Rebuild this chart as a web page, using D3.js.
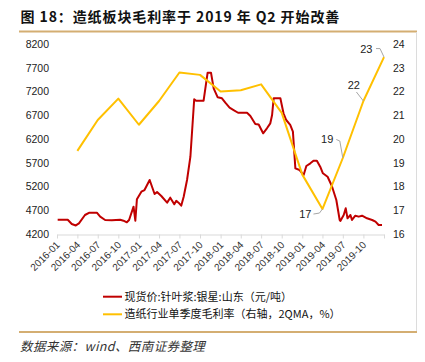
<!DOCTYPE html>
<html><head><meta charset="utf-8">
<script src="https://cdn.jsdelivr.net/npm/d3@7/dist/d3.min.js"></script>
<style>body{margin:0;background:#fff;} svg{display:block;}</style>
</head><body><svg id="c" width="425" height="362"></svg>
<script>
// ---------- data ----------
const titleText = "图 18：造纸板块毛利率于 2019 年 Q2 开始改善";
const sourceText = "数据来源：wind、西南证券整理";
const seriesNames = ["现货价:针叶浆:银星:山东（元/吨）", "造纸行业单季度毛利率（右轴，2QMA，%）"];
const xTickLabels = ["2016-01","2016-04","2016-07","2016-10","2017-01","2017-04","2017-07","2017-10",
                     "2018-01","2018-04","2018-07","2018-10","2019-01","2019-04","2019-07","2019-10"];
const leftTicks = [4200,4700,5200,5700,6200,6700,7200,7700,8200];
const rightTicks = [16,17,18,19,20,21,22,23,24];

const pulpDates = ["2016-01-04","2016-02-18","2016-03-07","2016-03-25","2016-04-08","2016-05-05","2016-05-25","2016-06-27",
  "2016-07-12","2016-08-03","2016-09-02","2016-10-09","2016-10-24","2016-11-08","2016-11-18","2016-12-08","2016-12-16",
  "2016-12-23","2017-01-12","2017-01-26","2017-02-18","2017-03-12","2017-03-23","2017-04-11","2017-05-07","2017-05-21",
  "2017-06-08","2017-06-17","2017-06-27","2017-07-09","2017-07-20","2017-08-04","2017-08-19","2017-09-05","2017-09-14",
  "2017-10-17","2017-11-04","2017-11-19","2017-12-01","2017-12-19","2018-01-07","2018-01-22","2018-02-10","2018-02-28",
  "2018-03-20","2018-04-29","2018-05-14","2018-06-05","2018-06-20","2018-07-10","2018-07-27","2018-08-11","2018-08-19",
  "2018-08-26","2018-09-25","2018-10-09","2018-10-21","2018-11-08","2018-11-20","2018-12-01","2018-12-20","2019-01-07",
  "2019-01-19","2019-02-06","2019-02-20","2019-03-07","2019-03-22","2019-04-03","2019-04-24","2019-05-13","2019-06-02",
  "2019-06-17","2019-06-20","2019-07-05","2019-07-14","2019-07-22","2019-08-04","2019-08-11","2019-08-26","2019-09-10",
  "2019-09-25","2019-10-17","2019-11-09","2019-11-24","2019-12-08","2019-12-23"];
const pulpPrices = [4500,4500,4410,4380,4425,4600,4650,4650,
  4565,4495,4490,4500,4480,4446,4495,4775,4480,
  4930,5090,5126,5337,5042,5084,5000,4860,4965,
  4825,4900,4860,4796,4985,5337,5827,7036,7006,
  7006,7596,7596,7267,7078,7057,6964,6859,6810,
  6753,6753,6684,6516,6505,6320,6425,6530,6705,
  7057,7057,6741,6600,6495,6354,5583,5547,5442,
  5632,5688,5743,5743,5617,5478,5406,5210,4916,
  4495,4474,4600,4741,4530,4600,4495,4585,4565,
  4585,4530,4495,4460,4390,4390];

const marginDates = ["2016-04-01","2016-07-01","2016-10-01","2017-01-01","2017-04-01","2017-07-01","2017-10-01","2018-01-01",
  "2018-04-01","2018-07-01","2018-10-01","2019-01-01","2019-04-01","2019-07-01","2019-10-01","2020-01-01"];
const marginValues = [19.5,20.8,21.7,20.6,21.6,22.8,22.7,22.0,22.05,22.3,21.1,18.5,17.05,19.2,21.6,23.45];
const labelledIdx = [12,13,14,15];

// ---------- layout ----------
const svg = d3.select("#c");
const parse = d3.timeParse("%Y-%m-%d");
const x = d3.scaleTime().domain([parse("2016-01-01"), parse("2020-01-01")]).range([57, 384]);
const yL = d3.scaleLinear().domain([4200, 8200]).range([234, 44]);
const yR = d3.scaleLinear().domain([16, 24]).range([234, 44]);

const cjk = "'Noto Sans CJK SC', sans-serif";
const latin = "'Liberation Sans', Arial, sans-serif";

// frame
svg.append("line").attr("x1",19).attr("x2",417).attr("y1",31.5).attr("y2",31.5).attr("stroke","#d4ae72").attr("stroke-width",2);
svg.append("line").attr("x1",19).attr("x2",417).attr("y1",332).attr("y2",332).attr("stroke","#d4ae72").attr("stroke-width",2);
svg.append("line").attr("x1",416.5).attr("x2",416.5).attr("y1",32).attr("y2",331).attr("stroke","#dcdcdc").attr("stroke-width",1);

// title
svg.append("text").attr("x",20.5).attr("y",22).text(titleText)
  .attr("font-family",cjk).attr("font-weight","bold").attr("font-size",14)
  .attr("letter-spacing",0.9).attr("fill","#111");

// left axis
const gL = svg.append("g").attr("transform","translate(49,0)")
  .call(d3.axisLeft(yL).tickValues(leftTicks).tickSize(0).tickPadding(0).tickFormat(d3.format("d")));
gL.select(".domain").remove();
gL.selectAll("text").attr("font-family",latin).attr("font-size",10.5).attr("fill","#222");

// right axis
const gR = svg.append("g").attr("transform","translate(393,0)")
  .call(d3.axisRight(yR).tickValues(rightTicks).tickSize(0).tickPadding(0).tickFormat(d3.format("d")));
gR.select(".domain").remove();
gR.selectAll("text").attr("font-family",latin).attr("font-size",10.5).attr("fill","#222");

// x axis
const xTickDates = xTickLabels.map(s => parse(s + "-01")).concat([parse("2020-01-01")]);
const gX = svg.append("g").attr("transform","translate(0,234.5)")
  .call(d3.axisBottom(x).tickValues(xTickDates).tickSizeInner(4).tickSizeOuter(0)
    .tickFormat((d,i) => i < xTickLabels.length ? xTickLabels[i] : ""));
gX.select(".domain").attr("stroke","#d9d9d9");
gX.selectAll(".tick line").attr("stroke","#d9d9d9");
gX.selectAll(".tick text").attr("font-family",latin).attr("font-size",10).attr("fill","#333")
  .attr("text-anchor","end").attr("dy",0).attr("y",0)
  .attr("transform","translate(3,11) rotate(-45)");

// pulp price line
const pulp = pulpDates.map((d,i) => ({d: parse(d), v: pulpPrices[i]}));
svg.append("path").datum(pulp)
  .attr("d", d3.line().x(p => x(p.d)).y(p => yL(p.v)))
  .attr("fill","none").attr("stroke","#c00000").attr("stroke-width",2).attr("stroke-linejoin","round");

// margin line
const margin = marginDates.map((d,i) => ({d: parse(d), v: marginValues[i]}));
svg.append("path").datum(margin)
  .attr("d", d3.line().x(p => x(p.d)).y(p => yR(p.v)))
  .attr("fill","none").attr("stroke","#ffc000").attr("stroke-width",2).attr("stroke-linejoin","round");

// data labels with leader lines (offsets relative to points)
const labelLayout = [
  {tx:-11, ty:8.5,  lead:[[-9,5],[-3,4],[0,0]]},
  {tx:-9.5, ty:-15, lead:[[-6.5,-18.5],[-3,-17],[0,0]]},
  {tx:-3.5, ty:-12, lead:[[-7,-9],[0,0]]},
  {tx:-11.5, ty:-4, lead:[[-8,-8.5],[-4,-8.5],[0,0]]}
];
labelledIdx.forEach((idx, k) => {
  const p = margin[idx], px = x(p.d), py = yR(p.v), L = labelLayout[k];
  svg.append("path").attr("d", d3.line()(L.lead.map(o => [px+o[0], py+o[1]])))
    .attr("fill","none").attr("stroke","#a6a6a6").attr("stroke-width",1);
  svg.append("text").attr("x", px+L.tx).attr("y", py+L.ty).attr("text-anchor","end")
    .attr("font-family",latin).attr("font-size",11).attr("fill","#222")
    .text(d3.format(".0f")(Math.round(p.v - 0.001)));
});

// legend
const legColors = ["#c00000","#ffc000"];
seriesNames.forEach((n,i) => {
  const ly = 296.7 + i*17.6;
  svg.append("line").attr("x1",103).attr("x2",122).attr("y1",ly).attr("y2",ly)
    .attr("stroke",legColors[i]).attr("stroke-width",2);
  svg.append("text").attr("x",124.5).attr("y",ly+4).text(n)
    .attr("font-family",cjk).attr("font-size",11).attr("fill","#111");
});

// source
svg.append("text").attr("x",20).attr("y",351).text(sourceText)
  .attr("font-family",cjk).attr("font-style","italic").attr("font-size",12.5)
  .attr("letter-spacing",0.4).attr("fill","#333");
</script>
</body></html>
